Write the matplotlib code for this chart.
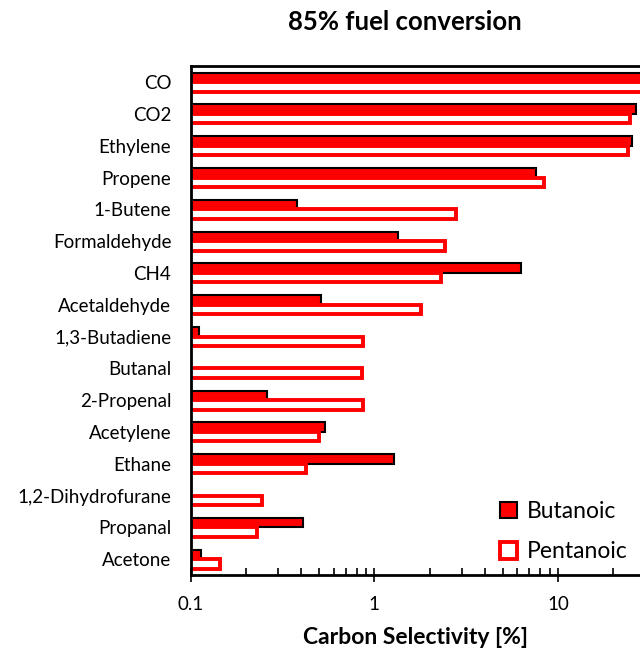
import matplotlib.pyplot as plt
import numpy as np

plt.rcParams['font.family'] = ['Lato', 'DejaVu Sans']

species = ['CO', 'CO2', 'Ethylene', 'Propene', '1-Butene', 'Formaldehyde', 'CH4',
           'Acetaldehyde', '1,3-Butadiene', 'Butanal', '2-Propenal', 'Acetylene',
           'Ethane', '1,2-Dihydrofurane', 'Propanal', 'Acetone']
butanoic = [30.0, 26.6, 25.3, 7.56, 0.377, 1.34, 6.26, 0.511, 0.1106, np.nan,
            0.26, 0.54, 1.28, np.nan, 0.41, 0.114]
pentanoic = [30.0, 24.6, 24.0, 8.4, 2.78, 2.42, 2.32, 1.79, 0.871, 0.86,
             0.863, 0.497, 0.422, 0.246, 0.229, 0.1435]

y = np.arange(len(species))
h = 0.3

fig = plt.figure(figsize=(6.4, 6.49), dpi=100)
ax = fig.add_axes([0.298, 0.114, 0.702, 0.784])

ax.barh(y - h / 2, butanoic, height=h, color='#ff0000',
        edgecolor='black', linewidth=1.5, label='Butanoic')
ax.barh(y + h / 2, pentanoic, height=h, color='white',
        edgecolor='#ff0000', linewidth=2.8, label='Pentanoic')

ax.set_xscale('log')
ax.set_xlim(0.1, 28)
ax.set_ylim(len(species) - 0.5, -0.5)
ax.set_yticks(y)
ax.set_yticklabels(species, fontsize=13.5)
ax.tick_params(axis='y', length=0, pad=14)
ax.set_xticks([0.1, 1, 10])
ax.set_xticklabels(['0.1', '1', '10'], fontsize=13.5)
ax.tick_params(axis='x', which='major', direction='inout', length=10, width=1.2, pad=10)
ax.tick_params(axis='x', which='minor', direction='in', length=5, width=1.2)
for s in ['left', 'bottom', 'top']:
    ax.spines[s].set_linewidth(2)
ax.spines['right'].set_visible(False)

ax.set_xlabel('Carbon Selectivity [%]', fontsize=16.5, fontweight='bold', labelpad=10)
fig.suptitle('85% fuel conversion', fontsize=18.5, fontweight='bold', x=0.632, y=0.985)

ax.legend(loc='lower right', bbox_to_anchor=(1.0, 0.0), frameon=False, fontsize=16.5,
          handlelength=0.75, handleheight=0.75, handletextpad=0.4, labelspacing=0.85,
          borderaxespad=0.15)

fig.savefig('out.png', dpi=100)
